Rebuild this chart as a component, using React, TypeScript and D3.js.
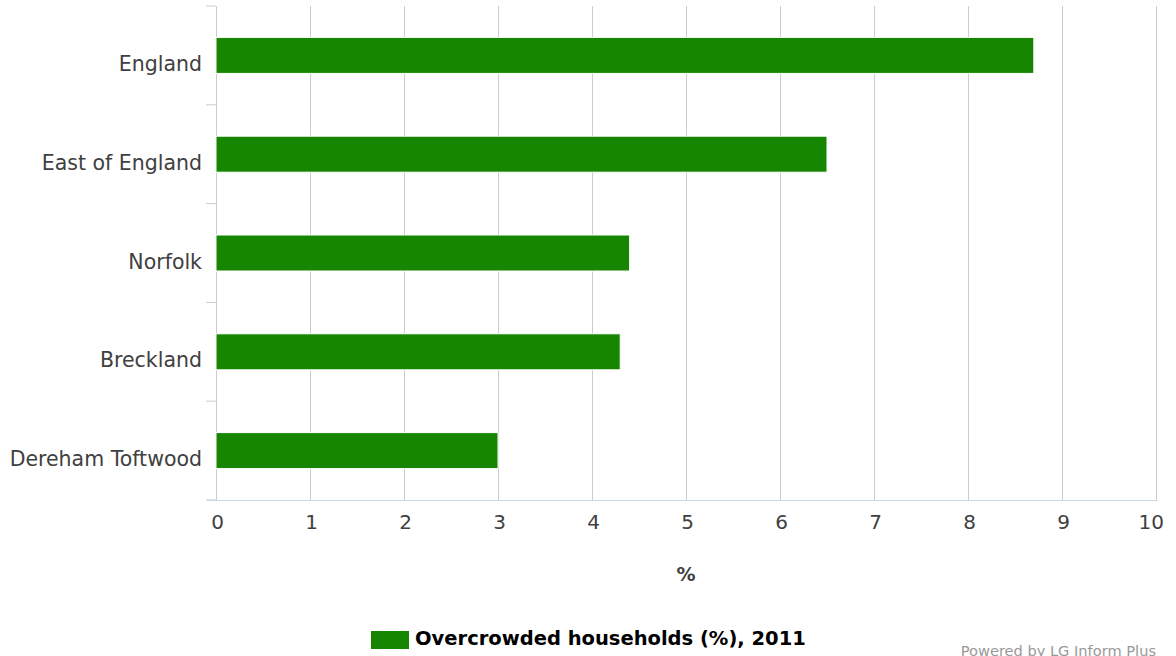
import React from "react";
import * as d3 from "d3";

const categories = ["England", "East of England", "Norfolk", "Breckland", "Dereham Toftwood"];
const values = [8.7, 6.5, 4.4, 4.3, 3.0];
const xTicks = [0, 1, 2, 3, 4, 5, 6, 7, 8, 9, 10];
const seriesName = "Overcrowded households (%), 2011";
const axisTitle = "%";
const credit = "Powered by LG Inform Plus";

export default function App() {
  const W = 1176, H = 656;
  const left = 216, right = 1156, top = 6, bottom = 500;
  const x = d3.scaleLinear().domain([0, 10]).range([left, right]);
  const y = d3.scaleBand<string>().domain(categories).range([top, bottom]).paddingInner(0).paddingOuter(0);
  const bw = y.bandwidth();
  const barH = 36;
  const font = "DejaVu Sans, sans-serif";
  const boundaries = d3.range(categories.length + 1).map((i) => top + i * bw);
  const lastTick = xTicks[xTicks.length - 1];
  return (
    <svg width={W} height={H} style={{ position: "absolute", left: 0, top: 0, display: "block" }}>
      <rect width={W} height={H} fill="#fff" />
      {xTicks.map((t) => (
        <line key={"g" + t} x1={x(t) + 0.5} x2={x(t) + 0.5} y1={top} y2={bottom} stroke="#cccccc" strokeWidth={1} />
      ))}
      <line x1={left + 0.5} x2={left + 0.5} y1={top} y2={bottom} stroke="#cccccc" />
      {boundaries.map((b, i) => (
        <line key={"t" + i} x1={left - 10} x2={left} y1={b} y2={b} stroke="#cccccc" />
      ))}
      {categories.map((c, i) => (
        <rect key={c} x={x(0)} y={(y(c) as number) + bw / 2 - barH / 2} width={x(values[i]) - x(0)} height={barH}
          fill="#168600" stroke="#ffffff" strokeWidth={1} />
      ))}
      <line x1={left - 9} x2={right + 2} y1={bottom + 0.5} y2={bottom + 0.5} stroke="#ccd6eb" />
      {categories.map((c) => (
        <text key={"l" + c} x={202} y={(y(c) as number) + bw / 2 + 15.5} textAnchor="end"
          fontFamily={font} fontSize={20.5} fill="#404040">{c}</text>
      ))}
      {xTicks.map((t) => (
        <text key={"x" + t} x={t === lastTick ? x(t) + 8 : x(t) + 1.5} y={529}
          textAnchor={t === lastTick ? "end" : "middle"} fontFamily={font} fontSize={20} fill="#404040">{t}</text>
      ))}
      <text x={(left + right) / 2} y={581} textAnchor="middle" fontFamily={font} fontSize={19} fontWeight="bold" fill="#404040">{axisTitle}</text>
      <rect x={371} y={631} width={38} height={18} fill="#168600" />
      <text x={415} y={645} fontFamily={font} fontSize={19.5} fontWeight="bold" fill="#000">{seriesName}</text>
      <text x={1156} y={656} textAnchor="end" fontFamily={font} fontSize={14.6} fill="#999999">{credit}</text>
    </svg>
  );
}
